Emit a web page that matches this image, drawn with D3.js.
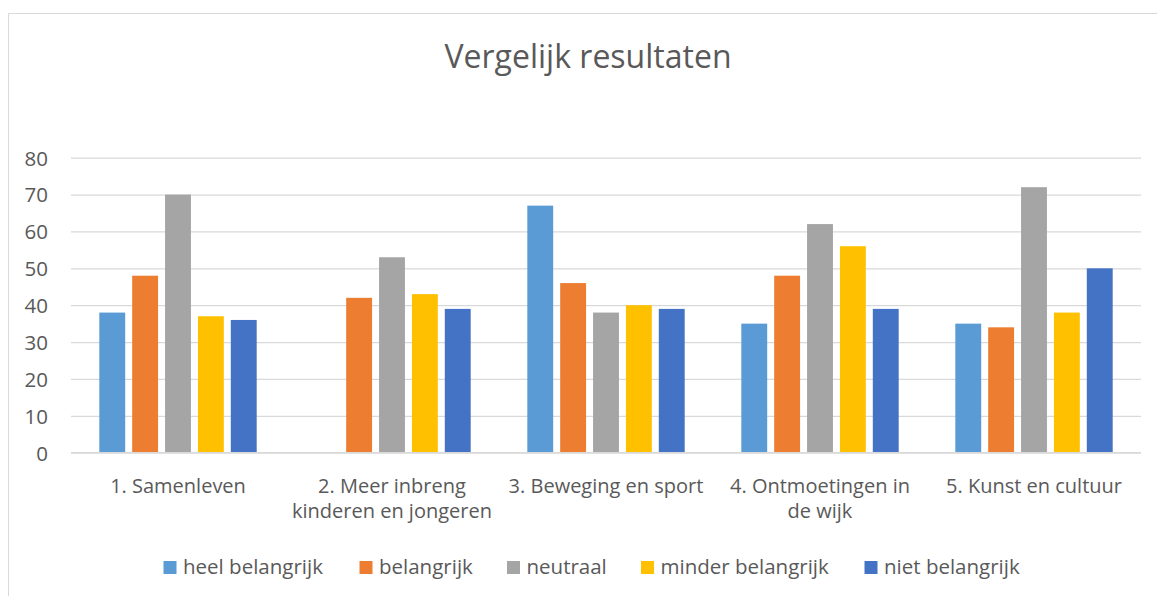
<!DOCTYPE html>
<html>
<head>
<meta charset="utf-8">
<script src="https://cdnjs.cloudflare.com/ajax/libs/d3/7.8.5/d3.min.js"></script>
<style>
  body { margin: 0; background: #fff; }
  text { font-family: "Open Sans", sans-serif; fill: #595959; }
</style>
</head>
<body>
<div id="chart"></div>
<script>
// data
var categories = [
  ["1. Samenleven"],
  ["2. Meer inbreng", "kinderen en jongeren"],
  ["3. Beweging en sport"],
  ["4. Ontmoetingen in", "de wijk"],
  ["5. Kunst en cultuur"]
];
var seriesNames = ["heel belangrijk", "belangrijk", "neutraal", "minder belangrijk", "niet belangrijk"];
var heelBelangrijk = [38, 0, 67, 35, 35];
var belangrijk = [48, 42, 46, 48, 34];
var neutraal = [70, 53, 38, 62, 72];
var minderBelangrijk = [37, 43, 40, 56, 38];
var nietBelangrijk = [36, 39, 39, 39, 50];
var yTicks = [0, 10, 20, 30, 40, 50, 60, 70, 80];

var colors = ["#5B9BD5", "#ED7D31", "#A5A5A5", "#FFC000", "#4472C4"];
var seriesValues = [heelBelangrijk, belangrijk, neutraal, minderBelangrijk, nietBelangrijk];

var svgWidth = 1157;
var svgHeight = 596;

var svg = d3.select("#chart")
  .append("svg")
  .attr("width", svgWidth)
  .attr("height", svgHeight);

// chart frame (cut off at right and bottom)
svg.append("path")
  .attr("d", "M8.5," + svgHeight + "V13.5H" + svgWidth)
  .attr("fill", "none")
  .attr("stroke", "#D9D9D9")
  .attr("stroke-width", 1);

// title
svg.append("text")
  .attr("x", 588)
  .attr("y", 68)
  .attr("text-anchor", "middle")
  .style("font-size", "32px")
  .text("Vergelijk resultaten");

// scales
var x0 = d3.scaleBand()
  .domain(d3.range(categories.length))
  .range([71, 1141]);

var barOffset = x0.bandwidth() * 0.1323;
var x1 = d3.scaleBand()
  .domain(d3.range(seriesNames.length))
  .range([barOffset, x0.bandwidth() - barOffset])
  .paddingInner(0.2126);

var y = d3.scaleLinear()
  .domain([0, 80])
  .range([452.7, 157.7]);

// gridlines + y labels
var yAxis = d3.axisLeft(y)
  .tickValues(yTicks)
  .tickSize(-(1141 - 71))
  .tickPadding(23);

var yg = svg.append("g")
  .attr("transform", "translate(71,0)")
  .call(yAxis);
yg.select(".domain").remove();
yg.selectAll(".tick line").attr("stroke", "#D9D9D9").attr("stroke-width", 1.3);
yg.selectAll(".tick text")
  .attr("fill", "#595959")
  .style("font-size", "20.5px")
  .attr("dy", "0.36em");

// bars
var groups = svg.selectAll(".cat")
  .data(categories)
  .enter()
  .append("g")
  .attr("class", "cat")
  .attr("transform", function(d, i) { return "translate(" + x0(i) + ",0)"; });

groups.selectAll("rect")
  .data(function(d, i) {
    return seriesValues.map(function(vals, s) { return { s: s, v: vals[i] }; });
  })
  .enter()
  .append("rect")
  .attr("x", function(d) { return x1(d.s); })
  .attr("y", function(d) { return y(d.v); })
  .attr("width", x1.bandwidth())
  .attr("height", function(d) { return y(0) - y(d.v); })
  .attr("fill", function(d) { return colors[d.s]; });

// x axis line
svg.append("line")
  .attr("x1", 71)
  .attr("x2", 1141)
  .attr("y1", y(0))
  .attr("y2", y(0))
  .attr("stroke", "#D9D9D9")
  .attr("stroke-width", 1.3);

// category labels
var catLabels = svg.selectAll(".catLabel")
  .data(categories)
  .enter()
  .append("text")
  .attr("class", "catLabel")
  .attr("text-anchor", "middle")
  .style("font-size", "20px")
  .attr("y", 493);

catLabels.selectAll("tspan")
  .data(function(d, i) { return d.map(function(line) { return { line: line, i: i }; }); })
  .enter()
  .append("tspan")
  .attr("x", function(d) { return x0(d.i) + x0.bandwidth() / 2; })
  .attr("dy", function(d, j) { return j === 0 ? 0 : 25; })
  .text(function(d) { return d.line; });

// legend
var legendX = [163.5, 359.5, 507, 641, 864.5];
var legend = svg.selectAll(".legend")
  .data(seriesNames)
  .enter()
  .append("g")
  .attr("class", "legend")
  .attr("transform", function(d, i) { return "translate(" + legendX[i] + ",561)"; });

legend.append("rect")
  .attr("width", 13)
  .attr("height", 13)
  .attr("fill", function(d, i) { return colors[i]; });

legend.append("text")
  .attr("x", 19.5)
  .attr("y", 13)
  .style("font-size", "20.5px")
  .text(function(d) { return d; });
</script>
</body>
</html>
